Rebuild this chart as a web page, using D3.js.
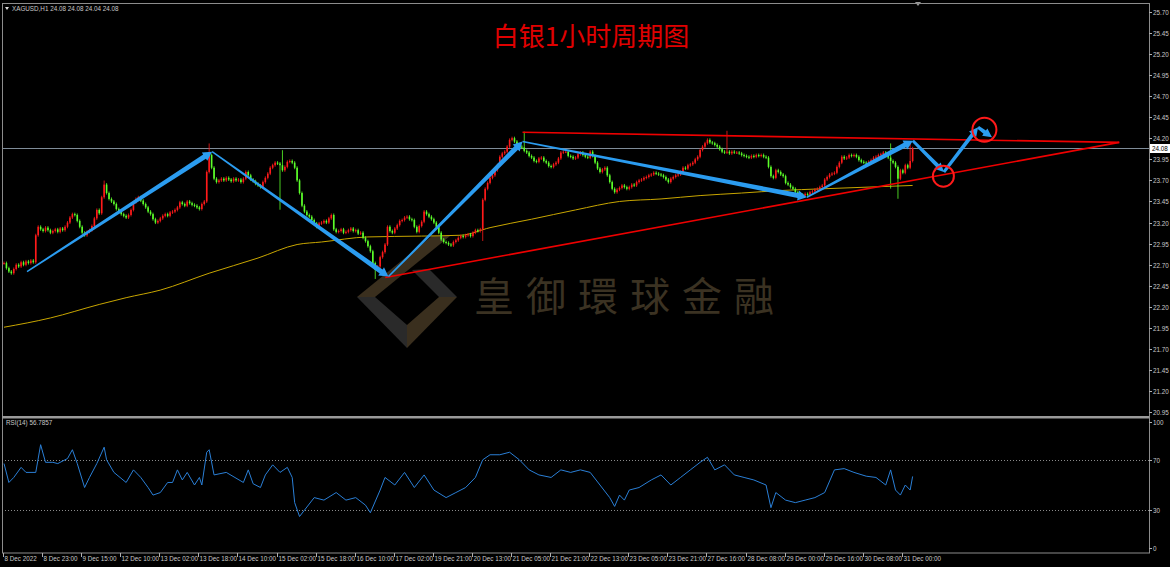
<!DOCTYPE html>
<html>
<head>
<meta charset="utf-8">
<script src="https://d3js.org/d3.v7.min.js"></script>
<style>
body { margin: 0; background: #000; overflow: hidden; }
svg text { font-family: "Liberation Sans", Arial, sans-serif; }
</style>
</head>
<body>
<div id="chart"></div>
<script>
// XAGUSD H1 closes, one per bar
var closes = [
  22.72,22.66,22.62,22.60,22.65,22.70,22.68,22.73,22.70,22.74,
  22.72,22.75,22.73,23.05,23.15,23.12,23.10,23.14,23.11,23.08,
  23.10,23.12,23.09,23.13,23.11,23.15,23.20,23.26,23.30,23.29,
  23.22,23.15,23.08,23.05,23.09,23.11,23.16,23.25,23.35,23.31,
  23.50,23.65,23.55,23.48,23.45,23.42,23.36,23.33,23.30,23.28,
  23.26,23.29,23.35,23.44,23.48,23.50,23.46,23.42,23.38,23.33,
  23.30,23.24,23.20,23.22,23.25,23.28,23.30,23.28,23.32,23.33,
  23.35,23.38,23.44,23.42,23.40,23.45,23.43,23.41,23.40,23.38,
  23.36,23.42,23.45,23.80,24.00,23.85,23.72,23.68,23.70,23.72,
  23.70,23.73,23.71,23.69,23.72,23.70,23.71,23.68,23.72,23.80,
  23.76,23.71,23.69,23.66,23.64,23.62,23.68,23.73,23.78,23.85,
  23.88,23.91,23.90,23.88,23.82,23.86,23.92,23.93,23.91,23.85,
  23.70,23.55,23.40,23.33,23.29,23.27,23.23,23.19,23.15,23.19,
  23.20,23.22,23.20,23.25,23.29,23.12,23.09,23.10,23.12,23.08,
  23.09,23.11,23.13,23.10,23.11,23.07,23.08,23.02,22.98,22.92,
  22.86,22.72,22.64,22.68,22.79,22.85,22.94,23.15,23.10,23.08,
  23.13,23.17,23.22,23.23,23.26,23.27,23.24,23.23,23.15,23.09,
  23.16,23.21,23.33,23.30,23.27,23.24,23.20,23.15,23.08,23.00,
  22.97,22.96,22.94,22.93,22.97,22.99,23.02,23.04,23.03,23.05,
  23.06,23.04,23.08,23.11,23.10,23.12,23.47,23.60,23.67,23.73,
  23.76,23.82,23.88,23.98,24.02,24.04,24.10,24.18,24.20,24.16,
  24.12,24.10,24.09,24.05,24.03,23.99,23.97,23.93,23.92,23.96,
  23.97,23.93,23.91,23.87,23.86,23.89,23.91,23.96,24.03,24.04,
  24.04,23.99,23.98,23.96,23.97,24.01,24.03,24.00,23.98,23.97,
  24.04,23.99,23.91,23.84,23.80,23.83,23.85,23.76,23.68,23.60,
  23.56,23.59,23.61,23.64,23.62,23.60,23.62,23.65,23.64,23.68,
  23.70,23.71,23.73,23.74,23.76,23.77,23.79,23.78,23.77,23.76,
  23.74,23.71,23.68,23.72,23.74,23.76,23.77,23.80,23.85,23.84,
  23.88,23.89,23.91,23.95,23.98,24.06,24.10,24.14,24.18,24.15,
  24.14,24.12,24.10,24.07,24.04,24.03,24.04,24.02,24.04,24.03,
  24.03,24.02,24.00,23.99,23.98,23.97,23.99,23.98,24.00,23.99,
  24.00,23.98,23.97,23.86,23.75,23.73,23.82,23.80,23.77,23.75,
  23.67,23.65,23.62,23.60,23.56,23.54,23.53,23.52,23.54,23.53,
  23.56,23.57,23.59,23.60,23.62,23.64,23.71,23.74,23.77,23.78,
  23.79,23.86,23.91,23.98,23.96,23.97,24.00,23.99,24.00,23.98,
  23.94,23.92,23.91,23.90,23.92,23.94,23.97,23.98,24.00,24.01,
  24.03,24.00,23.97,23.93,23.91,23.86,23.72,23.82,23.79,23.88,
  23.85,23.93,24.08
];
// long wicks [bar, price]
var wickHighs = [[41,23.68],[84,24.12],[114,24.04],[213,24.26],[296,24.27],[363,24.12],[371,24.12]];
var wickLows = [[113,23.37],[152,22.55],[196,23.00],[363,23.62],[366,23.50]];

// yellow moving average, sampled [bar -> price]
var maBars = [0,19,39,50,64,84,104,120,130,149,171,187,199,216,234,252,269,285,302,318,335,372];
var maValues = [21.96,22.07,22.23,22.31,22.40,22.60,22.78,22.94,22.97,23.03,23.04,23.05,23.14,23.24,23.35,23.45,23.48,23.52,23.55,23.58,23.60,23.64];

// RSI(14), sampled
var rsiBars = [0,2,4,7,9,13,15,17,20,22,26,28,30,33,35,38,41,42,45,50,53,56,59,61,64,67,69,71,73,75,78,80,81,83,84,86,91,98,100,102,105,107,110,113,116,118,119,121,123,127,131,136,140,144,148,150,154,156,160,164,168,172,176,181,185,189,193,196,199,203,207,211,215,219,224,228,232,236,240,244,248,250,252,254,256,260,265,269,273,277,281,285,288,291,295,299,303,307,312,314,316,320,324,328,332,336,340,344,348,353,357,361,363,365,367,369,371,372];
var rsiValues = [67,52,56,64,60,60,82,68,68,67,71,78,67,48,56,67,80,70,60,52,62,56,48,42,44,52,52,62,54,60,50,56,50,76,78,58,60,52,62,51,48,58,66,60,64,56,36,25,30,40,38,44,38,40,34,28,46,56,50,60,48,58,46,40,44,48,56,70,74,74,76,70,62,58,56,62,60,62,60,50,40,33,42,38,46,48,54,58,50,56,62,68,72,62,66,58,56,54,50,32,44,38,36,38,40,44,62,63,60,57,56,50,62,46,42,50,46,56.8];

var priceTicks = ["25.70","25.45","25.20","24.95","24.70","24.45","24.20","23.95","23.70","23.45","23.20","22.95","22.70","22.45","22.20","21.95","21.70","21.45","21.20","20.95"];
var rsiTicks = [100, 70, 30, 0];
var timeLabels = ["8 Dec 2022","8 Dec 23:00","9 Dec 15:00","12 Dec 10:00","13 Dec 02:00","13 Dec 18:00","14 Dec 10:00","15 Dec 02:00","15 Dec 18:00","16 Dec 10:00","17 Dec 02:00","19 Dec 21:00","20 Dec 13:00","21 Dec 05:00","21 Dec 21:00","22 Dec 13:00","23 Dec 05:00","23 Dec 21:00","27 Dec 16:00","28 Dec 08:00","29 Dec 00:00","29 Dec 16:00","30 Dec 08:00","31 Dec 00:00"];
var labelEvery = 16;

// hand drawn analysis: blue zigzag [bar, price] and red triangle lines
var zigBars = [9.4, 85.2, 157.4, 212.3, 328.7, 372.1, 384.8, 398.8, 404.5];
var zigPrices = [22.62, 24.04, 22.56, 24.16, 23.50, 24.17, 23.80, 24.33, 24.21];
var resistBars = [212.3, 456.6], resistPrices = [24.27, 24.15];
var supportBars = [156.1, 456.6], supportPrices = [22.55, 24.15];
var circleBars = [384.6, 401.4], circlePrices = [23.75, 24.30];
var lastPrice = 24.08;

var width = 1170, height = 567;
var plotL = 2, plotR = 1149, mainTop = 4, mainBottom = 415, rsiTop = 419, rsiBottom = 553;

var svg = d3.select('#chart').append('svg')
    .attr('width', width)
    .attr('height', height)
    .style('background', '#000');

var x = d3.scaleLinear().domain([0, 468]).range([4, 4 + 468 * 2.4425]);
var y = d3.scaleLinear().domain([20.92, 25.79]).range([mainBottom, mainTop]);
var yr = d3.scaleLinear().domain([0, 100]).range([548, 422]);

var clipMain = svg.append('clipPath').attr('id', 'clipMain')
  .append('rect').attr('x', plotL).attr('y', mainTop).attr('width', plotR - plotL).attr('height', mainBottom - mainTop);

// watermark
var wm = svg.append('g').attr('class', 'watermark');
var brown = '#3a2f1e', grey = '#2a2a2a';
wm.append('path').attr('fill', brown).attr('d', 'M357,297 L432,236 L450,236 L375,297 Z');
wm.append('path').attr('fill', grey).attr('d', 'M357,297 L375,297 L407,325 L407,348 Z');
wm.append('path').attr('fill', brown).attr('d', 'M407,348 L407,325 L439,297 L457,297 Z');
wm.append('path').attr('fill', grey).attr('d', 'M457,297 L439,297 L412,270 L429,269 Z');
wm.append('text')
    .attr('x', 474).attr('y', 311)
    .attr('fill', '#3b3222')
    .style('font-family', '"Noto Sans CJK TC", "Noto Sans CJK SC", sans-serif')
    .style('font-size', '40px')
    .style('letter-spacing', '12px')
    .text('皇御環球金融');

// title
svg.append('text')
    .attr('x', 591).attr('y', 46)
    .attr('text-anchor', 'middle')
    .attr('fill', '#e00000')
    .style('font-family', '"Noto Sans CJK SC", sans-serif')
    .style('font-size', '26px')
    .text('白银1小时周期图');

var main = svg.append('g').attr('clip-path', 'url(#clipMain)');

// last price line
main.append('line')
    .attr('x1', plotL).attr('x2', plotR)
    .attr('y1', Math.round(y(lastPrice)) + 0.5).attr('y2', Math.round(y(lastPrice)) + 0.5)
    .attr('stroke', '#7f8c99').attr('stroke-width', 1);

// moving average
var maPts = maBars.map(function(b, i) { return [b, maValues[i]]; });
main.append('path')
    .datum(maPts)
    .attr('fill', 'none')
    .attr('stroke', '#c8a600')
    .attr('stroke-width', 1)
    .attr('d', d3.line().x(function(d) { return x(d[0]); }).y(function(d) { return y(d[1]); }).curve(d3.curveMonotoneX));

// candles
var hiMap = {}, loMap = {};
wickHighs.forEach(function(d) { hiMap[d[0]] = d[1]; });
wickLows.forEach(function(d) { loMap[d[0]] = d[1]; });
var bars = closes.map(function(c, i) {
  var o = i > 0 ? closes[i - 1] : c;
  var hi = Math.max(o, c), lo = Math.min(o, c);
  if (hiMap[i] !== undefined) hi = Math.max(hi, hiMap[i]);
  if (loMap[i] !== undefined) lo = Math.min(lo, loMap[i]);
  return {i: i, o: o, c: c, h: hi, l: lo};
});
function candleColor(d) { return d.c >= d.o ? '#ff1a1a' : '#5cff2a'; }

main.selectAll('line.wick')
  .data(bars)
  .join('line')
    .attr('class', 'wick')
    .attr('x1', function(d) { return x(d.i); })
    .attr('x2', function(d) { return x(d.i); })
    .attr('y1', function(d) { return y(d.h) - 1.5; })
    .attr('y2', function(d) { return y(d.l) + 1.5; })
    .attr('stroke', candleColor)
    .attr('stroke-width', 0.8);

main.selectAll('rect.body')
  .data(bars)
  .join('rect')
    .attr('class', 'body')
    .attr('x', function(d) { return x(d.i) - 0.8; })
    .attr('width', 1.6)
    .attr('y', function(d) { return y(Math.max(d.o, d.c)); })
    .attr('height', function(d) { return Math.max(1, Math.abs(y(d.o) - y(d.c))); })
    .attr('fill', candleColor);

// red triangle lines
[[resistBars, resistPrices], [supportBars, supportPrices]].forEach(function(ln) {
  main.append('line')
      .attr('x1', x(ln[0][0])).attr('y1', y(ln[1][0]))
      .attr('x2', x(ln[0][1])).attr('y2', y(ln[1][1]))
      .attr('stroke', '#ee0000')
      .attr('stroke-width', 1.6);
});

// blue tapered arrows
function arrow(g, p0, p1, w0, w1) {
  var dx = p1[0] - p0[0], dy = p1[1] - p0[1];
  var len = Math.sqrt(dx * dx + dy * dy);
  var ux = dx / len, uy = dy / len, nx = -uy, ny = ux;
  var head = 9, hw = Math.max(w1 / 2 + 2.5, 4);
  var bx = p1[0] - ux * head, by = p1[1] - uy * head;
  var pts = [
    [p0[0] + nx * w0 / 2, p0[1] + ny * w0 / 2],
    [bx + nx * w1 / 2, by + ny * w1 / 2],
    [bx + nx * hw, by + ny * hw],
    [p1[0], p1[1]],
    [bx - nx * hw, by - ny * hw],
    [bx - nx * w1 / 2, by - ny * w1 / 2],
    [p0[0] - nx * w0 / 2, p0[1] - ny * w0 / 2]
  ];
  g.append('path')
      .attr('d', 'M' + pts.map(function(p) { return p[0].toFixed(1) + ',' + p[1].toFixed(1); }).join('L') + 'Z')
      .attr('fill', '#2b9cf0');
}
var zigWidths = [[1.5, 5], [1.5, 5], [1.5, 5], [1.5, 5], [1.5, 5], [3, 4], [3, 4], [3, 4]];
for (var k = 0; k < zigBars.length - 1; k++) {
  arrow(main,
    [x(zigBars[k]), y(zigPrices[k])],
    [x(zigBars[k + 1]), y(zigPrices[k + 1])],
    zigWidths[k][0], zigWidths[k][1]);
}

// red circles
circleBars.forEach(function(b, i) {
  main.append('circle')
      .attr('cx', x(b)).attr('cy', y(circlePrices[i]))
      .attr('r', i === 0 ? 10.5 : 12)
      .attr('fill', 'none')
      .attr('stroke', '#ff1a1a')
      .attr('stroke-width', 2);
});

// header
svg.append('path').attr('d', 'M5,7 L9,7 L7,10 Z').attr('fill', '#ddd');
svg.append('text')
    .attr('x', 12).attr('y', 11)
    .attr('fill', '#c8c8c8')
    .style('font-size', '6.3px')
    .text('XAGUSD,H1  24.08 24.08 24.04 24.08');
// chart shift marker
svg.append('path').attr('d', 'M915,2 L921,2 L918,6 Z').attr('fill', '#9a9a9a');

// RSI panel
var rsiPts = rsiBars.map(function(b, i) { return [b, rsiValues[i]]; });
[70, 30].forEach(function(v) {
  svg.append('line')
      .attr('x1', plotL).attr('x2', plotR)
      .attr('y1', Math.round(yr(v)) + 0.5).attr('y2', Math.round(yr(v)) + 0.5)
      .attr('stroke', '#8a8a8a')
      .attr('stroke-dasharray', '1,2');
});
svg.append('path')
    .datum(rsiPts)
    .attr('fill', 'none')
    .attr('stroke', '#2a7fd6')
    .attr('stroke-width', 1)
    .attr('d', d3.line().x(function(d) { return x(d[0]); }).y(function(d) { return yr(d[1]); }));
svg.append('text')
    .attr('x', 6).attr('y', 425)
    .attr('fill', '#c8c8c8')
    .style('font-size', '6.3px')
    .text('RSI(14) 56.7857');

// frames
svg.append('rect')
    .attr('x', plotL + 0.5).attr('y', 3.5)
    .attr('width', plotR - plotL).attr('height', rsiBottom - 3.5)
    .attr('fill', 'none').attr('stroke', '#8c8c8c');
svg.append('rect')
    .attr('x', plotL).attr('y', 416).attr('width', plotR - plotL).attr('height', 2.5)
    .attr('fill', '#9a9a9a');

// price axis
var yAxis = svg.append('g').attr('class', 'y-axis');
yAxis.selectAll('g')
  .data(priceTicks)
  .join('g')
    .attr('transform', function(d) { return 'translate(' + plotR + ',' + (Math.round(y(+d)) + 0.5) + ')'; })
    .each(function(d) {
      var t = d3.select(this);
      t.append('line').attr('x1', 0).attr('x2', 3).attr('stroke', '#b0b0b0');
      t.append('text').attr('x', 4).attr('dy', '0.33em').attr('fill', '#c8c8c8').style('font-size', '6.3px').text(d);
    });
// last price label
svg.append('rect')
    .attr('x', plotR + 1).attr('y', Math.round(y(lastPrice)) - 4)
    .attr('width', 20).attr('height', 9)
    .attr('fill', '#ffffff');
svg.append('text')
    .attr('x', plotR + 3).attr('y', Math.round(y(lastPrice)) + 0.5).attr('dy', '0.35em')
    .attr('fill', '#000').style('font-size', '6.3px').text(lastPrice.toFixed(2));

// RSI axis
svg.append('g').selectAll('g')
  .data(rsiTicks)
  .join('g')
    .attr('transform', function(d) { return 'translate(' + plotR + ',' + (Math.round(yr(d)) + 0.5) + ')'; })
    .each(function(d) {
      var t = d3.select(this);
      t.append('line').attr('x1', 0).attr('x2', 3).attr('stroke', '#b0b0b0');
      t.append('text').attr('x', 4).attr('dy', '0.33em').attr('fill', '#c8c8c8').style('font-size', '6.3px').text(d);
    });

// time axis
svg.append('g').selectAll('g')
  .data(timeLabels)
  .join('g')
    .attr('transform', function(d, i) { return 'translate(' + (Math.round(x(i * labelEvery)) - 0.5) + ',' + rsiBottom + ')'; })
    .each(function(d) {
      var t = d3.select(this);
      t.append('line').attr('y1', 0).attr('y2', 4).attr('stroke', '#b0b0b0');
      t.append('text').attr('x', 1).attr('y', 8).attr('fill', '#c8c8c8').style('font-size', '6.3px').text(d);
    });
</script>
</body>
</html>
